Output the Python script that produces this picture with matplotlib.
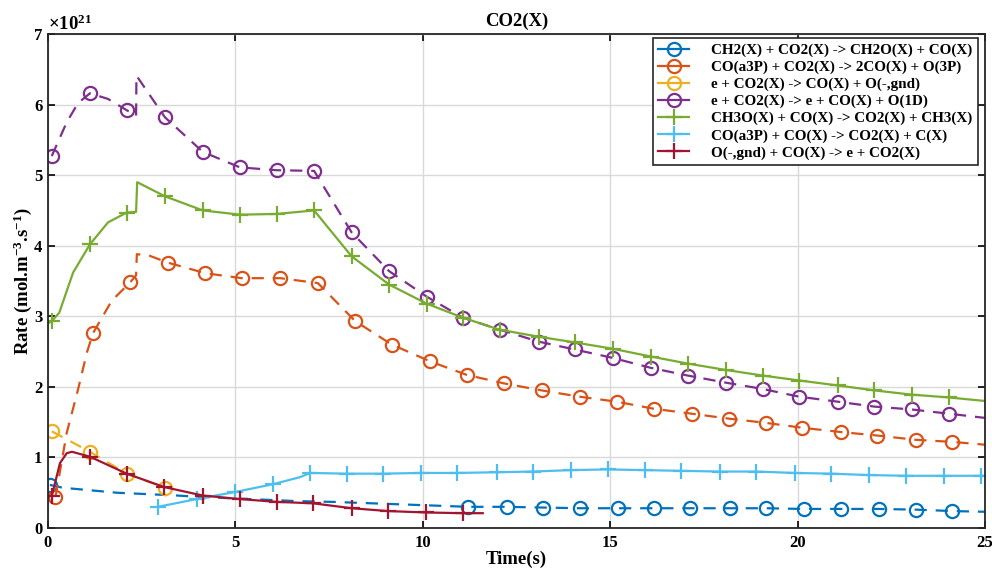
import matplotlib
matplotlib.use("Agg")
import matplotlib.pyplot as plt
from matplotlib.lines import Line2D

plt.rcParams['font.family'] = ['Liberation Serif', 'DejaVu Serif']
plt.rcParams['font.weight'] = 'bold'
plt.rcParams['mathtext.fontset'] = 'custom'
plt.rcParams['mathtext.rm'] = 'Liberation Serif:bold'
plt.rcParams['mathtext.bf'] = 'Liberation Serif:bold'
plt.rcParams['mathtext.default'] = 'rm'

# ---- data (values in units of 1e21 mol.m^-3.s^-1) ----
labels = [
    "CH2(X) + CO2(X) -> CH2O(X) + CO(X)",
    "CO(a3P) + CO2(X) -> 2CO(X) + O(3P)",
    "e + CO2(X) -> CO(X) + O(-,gnd)",
    "e + CO2(X) -> e + CO(X) + O(1D)",
    "CH3O(X) + CO(X) -> CO2(X) + CH3(X)",
    "CO(a3P) + CO(X) -> CO2(X) + C(X)",
    "O(-,gnd) + CO(X) -> e + CO2(X)",
]

t_ch2 = [0.05, 0.4, 1.84, 3.45, 4.05, 6.7, 7.6, 10.7, 11.2, 12.24, 13.2, 14.19, 15.2,
         16.16, 17.12, 18.19, 19.17, 20.16, 21.17, 22.16, 23.17, 24.13, 25.0]
y_ch2 = [0.61, 0.57, 0.50, 0.46, 0.44, 0.38, 0.37, 0.31, 0.30, 0.30, 0.29, 0.28, 0.28,
         0.28, 0.28, 0.28, 0.28, 0.27, 0.27, 0.27, 0.26, 0.24, 0.23]
m_ch2 = [0] + list(range(8, 22))

t_coa = [0.2, 0.5, 0.8, 1.04, 1.2, 1.7, 2.19, 2.35, 2.37, 2.7, 3.2, 4.2, 5.17, 6.2, 7.2,
         8.2, 9.17, 10.2, 11.17, 12.16, 13.17, 14.19, 15.17, 16.16, 17.17, 18.16, 19.15,
         20.13, 21.15, 22.13, 23.15, 24.13, 25.0]
y_coa = [0.44, 1.35, 1.96, 2.49, 2.76, 3.22, 3.48, 3.58, 3.88, 3.86, 3.76, 3.61, 3.54, 3.54, 3.47,
         2.93, 2.60, 2.36, 2.17, 2.05, 1.95, 1.86, 1.79, 1.69, 1.62, 1.55, 1.49,
         1.42, 1.36, 1.31, 1.25, 1.22, 1.18]
m_coa = [0, 4, 6] + list(range(10, 32))

t_eO = [0.1, 1.12, 2.1, 3.12]
y_eO = [1.37, 1.08, 0.77, 0.57]
m_eO = [0, 1, 2, 3]

t_e1D = [0.1, 0.5, 0.8, 1.12, 1.6, 2.1, 2.35, 2.36, 3.12, 4.13, 5.12, 6.1, 7.1, 8.1, 9.1,
         10.1, 11.07, 12.05, 13.1, 14.05, 15.07, 16.08, 17.07, 18.08, 19.07, 20.05, 21.07,
         22.05, 23.04, 24.03, 25.0]
y_e1D = [5.27, 5.75, 6.02, 6.16, 6.08, 5.92, 5.84, 6.41, 5.82, 5.33, 5.11, 5.07, 5.06, 4.19, 3.64,
         3.28, 2.98, 2.81, 2.64, 2.53, 2.41, 2.27, 2.16, 2.06, 1.97, 1.86, 1.79,
         1.72, 1.68, 1.62, 1.56]
m_e1D = [0, 3, 5] + list(range(8, 30))

t_ch3o = [0.0, 0.1, 0.3, 0.67, 1.12, 1.6, 2.1, 2.35, 2.38, 3.12, 4.13, 5.12, 6.1, 7.1, 8.1,
          9.1, 10.1, 11.07, 12.05, 13.1, 14.05, 15.07, 16.08, 17.07, 18.08, 19.07, 20.05,
          21.07, 22.05, 23.04, 24.03, 25.0]
y_ch3o = [2.90, 2.93, 3.05, 3.62, 4.02, 4.33, 4.47, 4.48, 4.90, 4.70, 4.50, 4.44, 4.45, 4.50, 3.85,
          3.45, 3.18, 2.98, 2.81, 2.71, 2.63, 2.54, 2.43, 2.33, 2.24, 2.16, 2.09,
          2.02, 1.95, 1.89, 1.85, 1.80]
m_ch3o = [1, 4, 6] + list(range(9, 31))

t_coc = [2.93, 3.97, 4.99, 6.0, 6.72, 7.0, 7.97, 8.93, 9.95, 10.9, 11.97, 12.93, 13.95,
         14.93, 15.92, 16.9, 17.92, 18.9, 19.92, 20.9, 21.9, 22.9, 23.9, 24.9, 25.0]
y_coc = [0.30, 0.41, 0.51, 0.62, 0.72, 0.78, 0.77, 0.77, 0.78, 0.78, 0.79, 0.80, 0.82,
         0.83, 0.82, 0.81, 0.80, 0.80, 0.78, 0.77, 0.75, 0.74, 0.74, 0.74, 0.74]
m_coc = [0, 1, 2, 3] + list(range(5, 24))

t_og = [0.1, 0.32, 0.5, 0.64, 1.12, 2.1, 3.1, 4.13, 5.12, 6.1, 7.07, 8.1, 9.07, 10.08,
        11.07, 11.6]
y_og = [0.45, 0.92, 1.06, 1.08, 1.01, 0.77, 0.58, 0.46, 0.41, 0.37, 0.35, 0.28, 0.24, 0.22,
        0.21, 0.21]
m_og = [0] + list(range(4, 15))

series = [
    (t_ch2, y_ch2, m_ch2, '#0072BD', '--', 'o'),
    (t_coa, y_coa, m_coa, '#D95319', '--', 'o'),
    (t_eO, y_eO, m_eO, '#EDB120', '--', 'o'),
    (t_e1D, y_e1D, m_e1D, '#7E2F8E', '--', 'o'),
    (t_ch3o, y_ch3o, m_ch3o, '#77AC30', '-', '+'),
    (t_coc, y_coc, m_coc, '#4DBEEE', '-', '+'),
    (t_og, y_og, m_og, '#A2142F', '-', '+'),
]

fig = plt.figure(figsize=(9.92, 5.69), dpi=100)
ax = fig.add_axes([48/992, 1-528/569, 937/992, 494/569])

handles = []
for (t, y, m, c, ls, mk), lab in zip(series, labels):
    ax.plot(t, y, color=c, linestyle=ls, linewidth=1.6, marker=mk, markevery=m,
            markersize=9.5 if mk == 'o' else 11, markerfacecolor='none',
            markeredgewidth=1.6, dashes=(5.5, 4) if ls == '--' else (None, None))
    handles.append(Line2D([], [], color=c, linestyle='-', linewidth=1.6, marker=mk,
                          markersize=9.5 if mk == 'o' else 11,
                          markerfacecolor='none', markeredgewidth=1.6))

ax.set_xlim(0, 25)
ax.set_ylim(0, 7)
ax.set_xticks([0, 5, 10, 15, 20, 25])
ax.set_yticks(range(0, 8))
ax.grid(True, color='#d9d9d9', linewidth=1.0)
ax.set_axisbelow(True)
ax.tick_params(direction='in', top=True, right=True, length=5, width=1.2,
               labelsize=12, pad=5)
ax.tick_params(axis='y', pad=4)
for lab in ax.get_xticklabels() + ax.get_yticklabels():
    lab.set_fontweight('bold')
for s in ax.spines.values():
    s.set_linewidth(1.3)
    s.set_color('#262626')

ax.set_title('CO2(X)', fontsize=13.5, fontweight='bold', pad=6)
ax.set_xlabel('Time(s)', fontsize=13.5, fontweight='bold', labelpad=0)
ax.set_ylabel(r'Rate (mol.m$^{-3}$.s$^{-1}$)', fontsize=13.5, fontweight='bold', labelpad=0)
ax.text(0.0, 1.0, r'$\times10^{21}$', transform=ax.transAxes, fontsize=13.5,
        ha='left', va='bottom')

leg = ax.legend(handles, labels, loc='upper right', bbox_to_anchor=(0.9925, 0.992),
                borderaxespad=0, fancybox=False, edgecolor='#262626', framealpha=1,
                fontsize=10.9, handlelength=2.0, handletextpad=1.5, labelspacing=0.22,
                borderpad=0.35)
leg.get_frame().set_linewidth(1.2)
for txt in leg.get_texts():
    txt.set_fontweight('bold')

fig.savefig('out.png', dpi=100)
